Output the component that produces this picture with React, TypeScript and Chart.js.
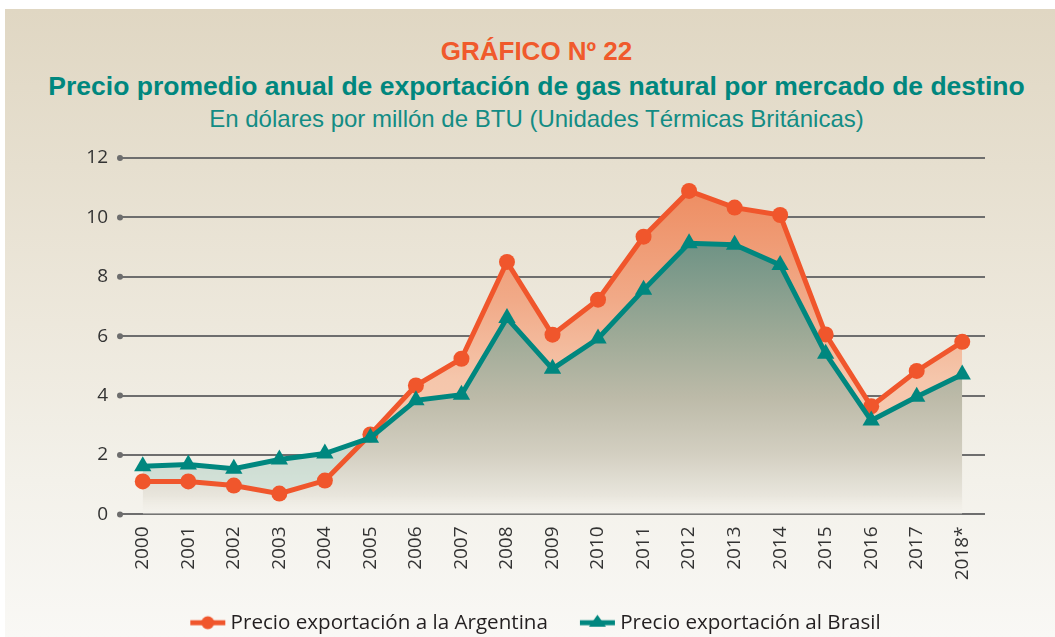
import React, { useEffect, useRef } from "react";
import { Chart, registerables } from "chart.js";

Chart.register(...registerables);

// ---- Data ----
const years = [
  "2000", "2001", "2002", "2003", "2004", "2005", "2006", "2007", "2008", "2009",
  "2010", "2011", "2012", "2013", "2014", "2015", "2016", "2017", "2018*",
];
const argentina = [
  1.11, 1.11, 0.97, 0.7, 1.14, 2.69, 4.34, 5.24, 8.5, 6.05,
  7.23, 9.35, 10.89, 10.33, 10.08, 6.06, 3.64, 4.83, 5.81,
];
const brasil = [
  1.62, 1.68, 1.54, 1.85, 2.05, 2.58, 3.84, 4.03, 6.61, 4.9,
  5.92, 7.56, 9.13, 9.08, 8.4, 5.41, 3.16, 3.96, 4.71,
];
const yMin = 0;
const yMax = 12;
const yStep = 2;

const titleMain = "GRÁFICO Nº 22";
const titleSub = "Precio promedio anual de exportación de gas natural por mercado de destino";
const titleUnit = "En dólares por millón de BTU (Unidades Térmicas Británicas)";
const labelArgentina = "Precio exportación a la Argentina";
const labelBrasil = "Precio exportación al Brasil";

const ORANGE = "#f0562c";
const TEAL = "#00877f";

function gradient(ctx: any, stops: [number, string][]) {
  const chart = ctx.chart;
  const a = chart.chartArea;
  if (!a) return stops[0][1];
  const g = chart.ctx.createLinearGradient(0, a.top, 0, a.bottom);
  stops.forEach(([o, c]) => g.addColorStop(o, c));
  return g;
}

function makeMarker(color: string, shape: "circle" | "triangle", boxW: number) {
  const c = document.createElement("canvas");
  const w = boxW + 12;
  c.width = w;
  c.height = 20;
  const g = c.getContext("2d")!;
  const x1 = w - 36;
  const x2 = w - 1;
  g.strokeStyle = color;
  g.lineWidth = 5;
  g.beginPath();
  g.moveTo(x1, 10);
  g.lineTo(x2, 10);
  g.stroke();
  g.fillStyle = color;
  const cx = (x1 + x2) / 2;
  g.beginPath();
  if (shape === "circle") {
    g.arc(cx, 10, 6.5, 0, Math.PI * 2);
  } else {
    g.moveTo(cx, 2);
    g.lineTo(cx + 8.5, 14);
    g.lineTo(cx - 8.5, 14);
    g.closePath();
  }
  g.fill();
  return c;
}

const dotsPlugin = {
  id: "tickDots",
  beforeDatasetsDraw(chart: any) {
    const y = chart.scales.y;
    const ctx = chart.ctx;
    ctx.save();
    ctx.fillStyle = "#6d6d6d";
    y.ticks.forEach((t: any) => {
      const py = y.getPixelForValue(t.value);
      ctx.beginPath();
      ctx.arc(chart.chartArea.left, py, 3, 0, Math.PI * 2);
      ctx.fill();
    });
    ctx.restore();
  },
};

export default function App() {
  const ref = useRef<HTMLCanvasElement>(null);

  useEffect(() => {
    if (!ref.current) return;
    const BOXW = 56;
    const markerA = makeMarker(ORANGE, "circle", BOXW);
    const markerB = makeMarker(TEAL, "triangle", BOXW);
    const tickFont = { family: "'Open Sans', 'Noto Sans', sans-serif", size: 19 };

    const chart = new Chart(ref.current, {
      type: "line",
      data: {
        labels: years,
        datasets: [
          {
            label: labelBrasil,
            data: brasil,
            borderColor: TEAL,
            backgroundColor: TEAL,
            borderWidth: 5,
            pointStyle: "triangle",
            pointRadius: 10,
            pointHoverRadius: 10,
            pointBackgroundColor: TEAL,
            pointBorderWidth: 0,
            fill: false,
            tension: 0,
            order: 0,
          },
          {
            label: labelArgentina,
            data: argentina,
            borderColor: ORANGE,
            borderWidth: 5,
            backgroundColor: (c: any) =>
              gradient(c, [
                [0, "#ec8459"],
                [0.12, "#ee9066"],
                [0.4, "#f1aa88"],
                [0.62, "#f5c6ab"],
                [1, "#f7d2bc"],
              ]),
            pointStyle: "circle",
            pointRadius: 8,
            pointHoverRadius: 8,
            pointBackgroundColor: ORANGE,
            pointBorderWidth: 0,
            fill: { target: 0, below: "rgba(200,226,219,0.6)" },
            tension: 0,
            order: 1,
          },
          {
            label: "_brasilFill",
            data: brasil,
            borderWidth: 0,
            borderColor: "rgba(0,0,0,0)",
            pointRadius: 0,
            pointHoverRadius: 0,
            backgroundColor: (c: any) =>
              gradient(c, [
                [0, "#5f8a7a"],
                [0.24, "#6f9385"],
                [0.5, "#9eaa97"],
                [0.67, "#bcbaa8"],
                [0.83, "#d3cfc1"],
                [0.95, "#e9e6dd"],
                [1, "rgba(244,242,236,0.4)"],
              ]),
            fill: "origin",
            tension: 0,
            order: 2,
          },
        ],
      },
      options: {
        animation: false,
        responsive: false,
        maintainAspectRatio: false,
        events: [],
        layout: { padding: { left: 60, right: 70, top: 158, bottom: -6 } },
        scales: {
          x: {
            offset: true,
            grid: { display: false, drawTicks: false },
            border: { display: false },
            ticks: {
              autoSkip: false,
              maxRotation: 90,
              minRotation: 90,
              padding: 12,
              color: "#333333",
              font: tickFont,
            },
            afterFit: (s: any) => {
              s.height = 92;
            },
          },
          y: {
            min: yMin,
            max: yMax,
            grid: { color: "#6e6e6e", lineWidth: 2, drawTicks: false },
            border: { display: false },
            ticks: {
              stepSize: yStep,
              padding: 12,
              color: "#333333",
              font: tickFont,
            },
            afterFit: (s: any) => {
              s.width = 60;
            },
          },
        },
        plugins: {
          filler: { drawTime: "beforeDatasetsDraw" },
          tooltip: { enabled: false },
          title: { display: false },
          legend: {
            display: true,
            position: "bottom",
            labels: {
              usePointStyle: true,
              pointStyleWidth: BOXW,
              padding: 6,
              color: "#231f20",
              font: { family: "'Open Sans', 'Noto Sans', sans-serif", size: 20.6 },
              generateLabels: () => [
                {
                  text: labelArgentina,
                  pointStyle: markerA,
                  fillStyle: ORANGE,
                  strokeStyle: ORANGE,
                  lineWidth: 0,
                  fontColor: "#231f20",
                  hidden: false,
                  datasetIndex: 1,
                },
                {
                  text: labelBrasil,
                  pointStyle: markerB,
                  fillStyle: TEAL,
                  strokeStyle: TEAL,
                  lineWidth: 0,
                  fontColor: "#231f20",
                  hidden: false,
                  datasetIndex: 0,
                },
              ],
            },
          },
        },
      },
      plugins: [dotsPlugin],
    } as any);

    return () => chart.destroy();
  }, []);

  const titleBase: React.CSSProperties = {
    position: "absolute",
    left: 9,
    width: 1055,
    textAlign: "center",
    fontFamily: "'Liberation Sans', Arial, sans-serif",
    whiteSpace: "nowrap",
    margin: 0,
  };

  return (
    <div style={{ position: "absolute", left: 0, top: 0, width: 1055, height: 637, background: "#ffffff", overflow: "hidden" }}>
      <div
        style={{
          position: "absolute",
          left: 5,
          top: 9,
          width: 1050,
          height: 628,
          background:
            "linear-gradient(to bottom, #e0d7c3 0%, #e6dfcf 25%, #ede8dc 50%, #f3f1ea 75%, #f9f8f5 100%)",
        }}
      />
      <div style={{ ...titleBase, top: 36, fontSize: 26, lineHeight: "30px", fontWeight: 700, color: "#f05a2c" }}>
        {titleMain}
      </div>
      <div style={{ ...titleBase, top: 71, fontSize: 26.5, lineHeight: "30px", fontWeight: 700, color: "#00877e" }}>
        {titleSub}
      </div>
      <div style={{ ...titleBase, top: 105, fontSize: 24, lineHeight: "28px", fontWeight: 400, color: "#138c84" }}>
        {titleUnit}
      </div>
      <canvas ref={ref} width={1055} height={637} style={{ position: "absolute", left: 0, top: 0, width: 1055, height: 637 }} />
    </div>
  );
}
